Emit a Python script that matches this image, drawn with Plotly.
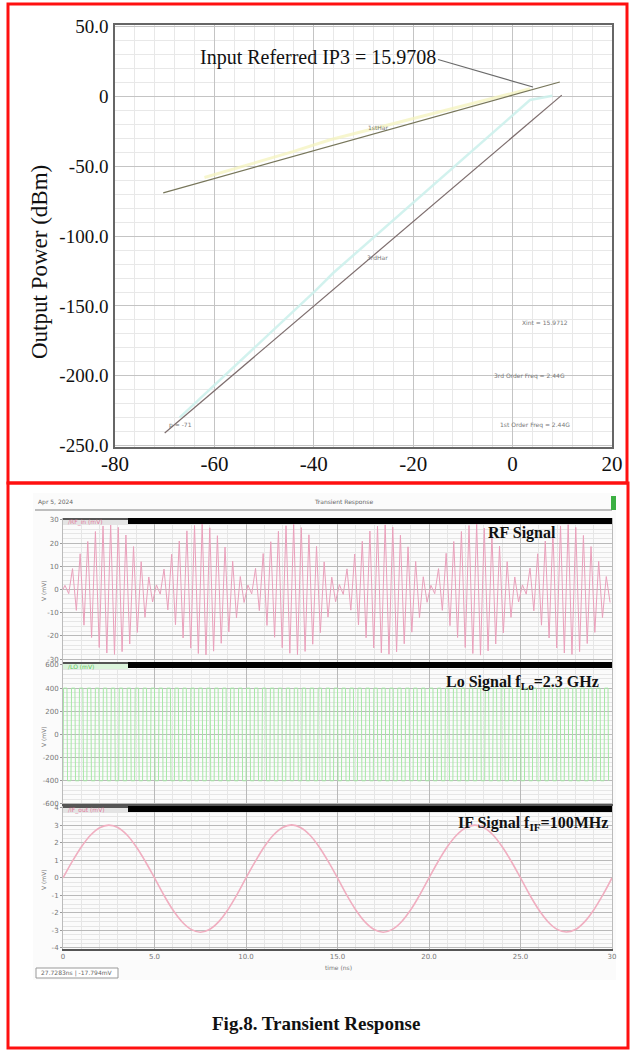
import plotly.graph_objects as go

W, H = 630, 1052
def px(x): return x / W
def py(y): return 1 - y / H

SERIF = "Liberation Serif"
SANS = "DejaVu Sans"

# ---------------- top chart data (IP3 plot) ----------------
fund_x = [-70.3, 9.5]
fund_y = [-69.0, 10.4]
fund_ext_x = [-62.0, -44.2, -36.7, 3.5]
fund_ext_y = [-58.0, -39.5, -31.0, 5.5]
third_x = [-70.0, 9.9]
third_y = [-241.0, 1.0]
third_ext_x = [-67.0, -39.5, -36.1, 3.5, 8.0]
third_ext_y = [-230.0, -138.5, -126.4, -2.5, 0.5]

ip3_label = "Input Referred IP3 = 15.9708"
ip3_label_pos = (-39.2, 28.0)
ip3_leader_start = (-15.0, 26.5)
ip3_point = (4.1, 6.8)

top_xticks = [-80, -60, -40, -20, 0, 20]
top_yticks = [50, 0, -50, -100, -150, -200, -250]
top_ytick_text = ["50.0", "0", "-50.0", "-100.0", "-150.0", "-200.0", "-250.0"]

small_labels = ["1stHar", "3rdHar", "p = -71", "Xint = 15.9712",
                "3rd Order Freq = 2.44G", "1st Order Freq = 2.44G"]
small_label_x = [-27.1, -27.1, -66.9, 6.5, 3.5, 4.5]
small_label_y = [-22.4, -115.4, -235.5, -162.0, -200.0, -235.0]

# ---------------- bottom chart data (transient) ----------------
time_ticks = [0, 5, 10, 15, 20, 25, 30]
time_tick_text = ["0", "5.0", "10.0", "15.0", "20.0", "25.0", "30"]

rf_carrier_ghz = 2.4
rf_env_mv = [
    1.8, 9.0, 15.4, 20.7, 25.0, 27.4, 28.0, 26.8, 23.5, 18.5, 12.0, 5.4,
    2.0, 8.8, 15.2, 20.9, 25.3, 27.6, 28.2, 26.6, 23.2, 18.3, 12.2, 5.6,
    1.9, 9.1, 15.5, 20.6, 25.1, 27.5, 28.1, 26.7, 23.6, 18.6, 11.9, 5.3,
    2.1, 8.9, 15.3, 20.8, 25.2, 27.3, 27.9, 26.9, 23.4, 18.4, 12.1, 5.5,
    1.8, 9.0, 15.6, 20.7, 25.0, 27.6, 28.3, 26.5, 23.5, 18.7, 12.0, 5.4,
    2.0, 9.2, 15.4, 20.9, 25.2, 27.4, 28.0, 26.8, 23.3, 18.5, 12.1, 5.6,
]
rf_ticks = [-30, -20, -10, 0, 10, 20, 30]

lo_freq_ghz = 2.3
lo_high_mv = 400
lo_low_mv = -400
lo_ticks = [-600, -400, -200, 0, 200, 400, 600]

if_t_ns = [i * 0.5 for i in range(61)]
if_mv = [
    0.0, 0.93, 1.77, 2.44, 2.87, 3.02, 2.88, 2.45, 1.78, 0.94,
    0.0, -0.96, -1.82, -2.50, -2.94, -3.10, -2.95, -2.51, -1.83, -0.97,
    0.0, 0.93, 1.78, 2.45, 2.88, 3.03, 2.87, 2.44, 1.77, 0.93,
    0.0, -0.97, -1.83, -2.51, -2.95, -3.10, -2.94, -2.50, -1.82, -0.96,
    0.0, 0.94, 1.78, 2.44, 2.87, 3.02, 2.88, 2.45, 1.78, 0.94,
    0.0, -0.96, -1.82, -2.50, -2.94, -3.09, -2.95, -2.51, -1.83, -0.97,
    0.0,
]
if_ticks = [-4, -3, -2, -1, 0, 1, 2, 3, 4]

# ---------------- build waveforms from the lists ----------------
T_rf = 1.0 / rf_carrier_ghz
rf_t, rf_v = [0.0], [0.0]
for k, e in enumerate(rf_env_mv):
    rf_t += [k * T_rf + T_rf / 4, k * T_rf + 3 * T_rf / 4]
    rf_v += [e, -e]

T_lo = 1.0 / lo_freq_ghz
n_lo = int(30 * lo_freq_ghz)
lo_t, lo_v = [], []
for k in range(n_lo):
    t0 = k * T_lo
    lo_t += [t0, t0 + 0.03, t0 + T_lo / 2, t0 + T_lo / 2 + 0.03]
    lo_v += [lo_low_mv, lo_high_mv, lo_high_mv, lo_low_mv]

fig = go.Figure()

fig.add_trace(go.Scatter(x=fund_ext_x, y=fund_ext_y, mode="lines",
                         line=dict(color="rgba(244,243,190,0.75)", width=3), xaxis="x", yaxis="y"))
fig.add_trace(go.Scatter(x=third_ext_x, y=third_ext_y, mode="lines",
                         line=dict(color="rgba(205,241,236,0.9)", width=2.5), xaxis="x", yaxis="y"))
fig.add_trace(go.Scatter(x=fund_x, y=fund_y, mode="lines",
                         line=dict(color="#77765a", width=1.2), xaxis="x", yaxis="y"))
fig.add_trace(go.Scatter(x=third_x, y=third_y, mode="lines",
                         line=dict(color="#7d6d6d", width=1.2), xaxis="x", yaxis="y"))

fig.add_trace(go.Scatter(x=rf_t, y=rf_v, mode="lines",
                         line=dict(color="#eaa0bb", width=1), xaxis="x2", yaxis="y2"))
fig.add_trace(go.Scatter(x=lo_t, y=lo_v, mode="lines",
                         line=dict(color="#a6e8a6", width=1), xaxis="x3", yaxis="y3"))
fig.add_trace(go.Scatter(x=if_t_ns, y=if_mv, mode="lines", line_shape="spline",
                         line=dict(color="#f0aec0", width=1.6), xaxis="x4", yaxis="y4"))

tick_small = dict(family=SANS, size=7, color="#777")
grid_major = "#b9b9b9"
grid_minor = "#e6e6e6"

def bottom_x(dom_anchor, show_labels):
    return dict(domain=[px(63), px(612)], anchor=dom_anchor, range=[0, 30],
                tickvals=time_ticks, ticktext=time_tick_text, showticklabels=show_labels,
                tickfont=tick_small, showgrid=True, gridcolor=grid_major, gridwidth=1,
                minor=dict(dtick=1, showgrid=True, gridcolor=grid_minor),
                zeroline=False, showline=True, linecolor="#bbb", mirror=True, ticks="",
                automargin=False)

def bottom_y(dom, anchor, rng, ticks, minor_dt):
    return dict(domain=dom, anchor=anchor, range=rng, tickvals=ticks,
                ticktext=[str(v) for v in ticks], tickfont=tick_small,
                showgrid=True, gridcolor=grid_major,
                minor=dict(dtick=minor_dt, showgrid=True, gridcolor=grid_minor),
                zeroline=False, showline=True, linecolor="#bbb", mirror=True,
                ticks="outside", ticklen=2, tickcolor="#999", automargin=False)

x4 = bottom_x("y4", True)
x4.update(showline=True, linecolor="#555", linewidth=2)

fig.update_layout(
    width=W, height=H, margin=dict(l=0, r=0, t=0, b=0, pad=0, autoexpand=False),
    paper_bgcolor="white", plot_bgcolor="white", showlegend=False,
    xaxis=dict(domain=[px(115), px(612)], anchor="y", range=[-80, 20],
               tickvals=top_xticks, ticktext=[str(v) for v in top_xticks],
               tickfont=dict(family=SERIF, size=21, color="#111"),
               showgrid=True, gridcolor="#c4c4c4",
               minor=dict(dtick=4, showgrid=True, gridcolor="#e8e8e8"),
               zeroline=False, showline=True, linecolor="#666", linewidth=1.5,
               mirror=True, ticks="", ticklabelstandoff=-3, automargin=False),
    yaxis=dict(domain=[py(447), py(25)], anchor="x", range=[-251, 51.2],
               tickvals=top_yticks, ticktext=top_ytick_text,
               tickfont=dict(family=SERIF, size=19, color="#111"),
               showgrid=True, gridcolor="#c4c4c4",
               minor=dict(dtick=10, showgrid=True, gridcolor="#e8e8e8"),
               zeroline=False, showline=True, linecolor="#666", linewidth=1.5,
               mirror=True, ticks="", ticklabelstandoff=1, automargin=False),
    xaxis2=bottom_x("y2", False),
    yaxis2=bottom_y([py(663), py(519)], "x2", [-31.7, 30.4], rf_ticks, 2),
    xaxis3=bottom_x("y3", False),
    yaxis3=bottom_y([py(805), py(663)], "x3", [-609, 617], lo_ticks, 40),
    xaxis4=x4,
    yaxis4=bottom_y([py(949), py(806)], "x4", [-4.06, 4.11], if_ticks, 0.25),
)

shapes = []
shapes.append(dict(type="rect", xref="paper", yref="paper", layer="below",
                   x0=px(33), x1=px(616), y0=py(980), y1=py(493),
                   fillcolor="#fbfbfb", line=dict(width=0)))
shapes.append(dict(type="line", xref="paper", yref="paper",
                   x0=px(35), x1=px(612), y0=py(510), y1=py(510),
                   line=dict(color="#aaa", width=1.5)))
shapes.append(dict(type="rect", xref="paper", yref="paper",
                   x0=px(611), x1=px(616), y0=py(510), y1=py(496),
                   fillcolor="#3cb043", line=dict(width=0)))
for top, strip_col in [(518, "#e4e4e4"), (662, "#dcf4dc"), (806, "#e4e4e4")]:
    shapes.append(dict(type="rect", xref="paper", yref="paper",
                       x0=px(128), x1=px(612), y0=py(top + 6), y1=py(top),
                       fillcolor="black", line=dict(width=0)))
    shapes.append(dict(type="rect", xref="paper", yref="paper",
                       x0=px(63), x1=px(128), y0=py(top + 7), y1=py(top),
                       fillcolor=strip_col, line=dict(width=0)))
    shapes.append(dict(type="rect", xref="paper", yref="paper",
                       x0=px(63), x1=px(128), y0=py(top + 2), y1=py(top),
                       fillcolor="#555", line=dict(width=0)))
shapes.append(dict(type="rect", xref="paper", yref="paper",
                   x0=px(36), x1=px(118), y0=py(978), y1=py(968),
                   fillcolor="white", line=dict(color="#999", width=1)))
shapes.append(dict(type="line", xref="x", yref="y",
                   x0=ip3_leader_start[0], y0=ip3_leader_start[1],
                   x1=ip3_point[0], y1=ip3_point[1],
                   line=dict(color="#6a6a6a", width=1.2)))
shapes.append(dict(type="rect", xref="paper", yref="paper",
                   x0=px(8), x1=px(627), y0=py(483), y1=py(4),
                   line=dict(color="#ff1010", width=3)))
shapes.append(dict(type="rect", xref="paper", yref="paper",
                   x0=px(8), x1=px(628), y0=py(1048), y1=py(483),
                   line=dict(color="#ff1010", width=3)))
fig.update_layout(shapes=shapes)

def A(x, y, text, font, xref="paper", yref="paper", xanchor="center", **kw):
    d = dict(x=x, y=y, xref=xref, yref=yref, text=text, showarrow=False,
             xanchor=xanchor, yanchor="middle", font=font)
    d.update(kw)
    return d

ann = []
ann.append(A(ip3_label_pos[0], ip3_label_pos[1], ip3_label,
             dict(family=SERIF, size=20, color="#111"), xref="x", yref="y"))
for t, xx, yy in zip(small_labels, small_label_x, small_label_y):
    ann.append(A(xx, yy, t, dict(family=SANS, size=6, color="#777"), xref="x", yref="y"))
ann.append(A(px(40), py(262), "Output Power (dBm)",
             dict(family=SERIF, size=23, color="#111"), textangle=-90))
ann.append(A(px(36), py(502), "Apr 5, 2024", dict(family=SANS, size=6, color="#666"), xanchor="left"))
ann.append(A(px(344), py(502), "Transient Response", dict(family=SANS, size=6, color="#666")))
for yy, txt, col in [(522, "/RF_in (mV)", "#e07a9c"), (666, "/LO (mV)", "#5cc45c"), (810, "/IF_out (mV)", "#e07a9c")]:
    ann.append(A(px(66), py(yy), txt, dict(family=SANS, size=6, color=col), xanchor="left"))
for yy in [590, 736, 879]:
    ann.append(A(px(43), py(yy), "V (mV)", dict(family=SANS, size=6, color="#777"), textangle=-90))
ann.append(A(px(522), py(533), "<b>RF Signal</b>", dict(family=SERIF, size=16, color="#111")))
ann.append(A(px(522), py(682), "<b>Lo Signal f<sub>Lo</sub>=2.3 GHz</b>", dict(family=SERIF, size=16, color="#111")))
ann.append(A(px(533), py(823), "<b>IF Signal f<sub>IF</sub>=100MHz</b>", dict(family=SERIF, size=16, color="#111")))
ann.append(A(px(338), py(967), "time (ns)", dict(family=SANS, size=6, color="#777")))
ann.append(A(px(77), py(973), "27.7283ns | -17.794mV", dict(family=SANS, size=6, color="#666")))
ann.append(A(px(316), py(1023), "<b>Fig.8. Transient Response</b>", dict(family=SERIF, size=19, color="#111")))
fig.update_layout(annotations=ann)

fig.write_html("out.html")
